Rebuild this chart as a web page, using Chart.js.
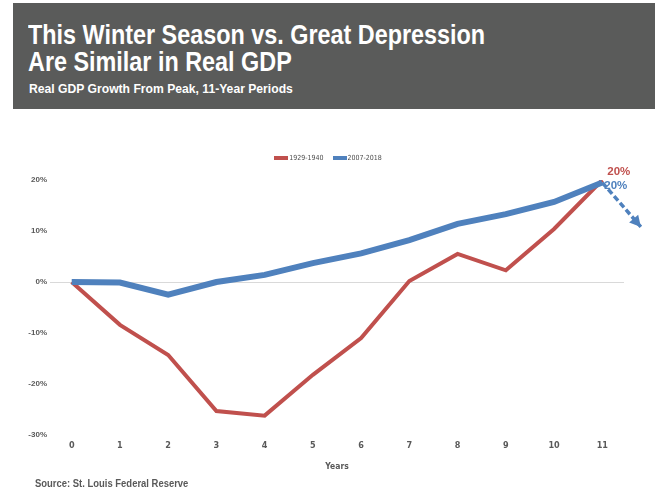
<!DOCTYPE html>
<html>
<head>
<meta charset="utf-8">
<script src="https://cdn.jsdelivr.net/npm/chart.js@4.4.1/dist/chart.umd.min.js"></script>
<style>
  html, body { margin: 0; padding: 0; background: #fff; }
  body {
    position: relative; width: 656px; height: 491px; overflow: hidden;
    font-family: "Liberation Sans", Arial, sans-serif;
  }
  #chart-box { position: absolute; left: 0; top: 0; width: 656px; height: 491px; }
  #header {
    position: absolute; left: 13px; top: 3px; width: 642px; height: 106px;
    background: #5a5b5a; color: #fff; font-weight: bold;
  }
  /* condensed look: regular sans squeezed horizontally */
  #header .title {
    position: absolute; left: 15px; top: 18px; font-size: 28px; line-height: 27px;
    white-space: nowrap; transform: scaleX(0.835); transform-origin: 0 0;
  }
  #header .subtitle {
    position: absolute; left: 16px; top: 78px; font-size: 13.5px; line-height: 16px;
    white-space: nowrap; transform: scaleX(0.9); transform-origin: 0 0;
  }
  #legend {
    position: absolute; left: 0; top: 152px; width: 656px; height: 12px;
    display: flex; justify-content: center; align-items: center;
    font-family: "DejaVu Sans Condensed", sans-serif; font-size: 7px; color: #4d4d4d;
  }
  #legend .item { display: flex; align-items: center; margin: 0 4.5px; }
  #legend .swatch { width: 14px; height: 4px; margin-right: 1px; }
  #source {
    position: absolute; left: 35px; top: 477px; font-size: 10.5px; line-height: 12px;
    font-weight: bold; color: #595959; white-space: nowrap;
    transform: scaleX(0.9); transform-origin: 0 0;
  }
</style>
</head>
<body>
<div id="chart-box"><canvas id="gdp"></canvas></div>
<div id="header">
  <div class="title">This Winter Season vs. Great Depression<br>Are Similar in Real GDP</div>
  <div class="subtitle">Real GDP Growth From Peak, 11-Year Periods</div>
</div>
<div id="legend"></div>
<div id="source">Source: St. Louis Federal Reserve</div>

<script>
// years since the prior peak
const years = [0, 1, 2, 3, 4, 5, 6, 7, 8, 9, 10, 11]
// cumulative real GDP change from peak, percent
const gdp1929 = [0, -8.4, -14.3, -25.3, -26.2, -18.2, -11.0, 0.2, 5.5, 2.3, 10.4, 20]
const gdp2007 = [0, -0.1, -2.5, 0, 1.4, 3.7, 5.6, 8.2, 11.4, 13.3, 15.7, 19.5]
const yTicks = [-30, -20, -10, 0, 10, 20]
// dashed projection after the last 2007-2018 reading
const projYears = [11, 11.8]
const projGdp = [19.5, 10.8]

const RED = '#c0504d'
const BLUE = '#4f81bd'
const GREY = '#595959'
const NARROW = '"DejaVu Sans Condensed", sans-serif'
const SANS = '"Liberation Sans", Arial, sans-serif'

// "20%" tags at the end of each line plus the arrowhead on the projection
const endLabels = {
  id: 'endLabels',
  afterDatasetsDraw(chart, args, opts) {
    const ctx = chart.ctx
    ctx.save()
    ctx.font = 'bold 11.5px ' + SANS
    ctx.textAlign = 'left'
    ctx.textBaseline = 'middle'
    opts.series.forEach((s) => {
      const ds = chart.data.datasets[s.index]
      const pts = chart.getDatasetMeta(s.index).data
      const last = pts[pts.length - 1]
      const value = ds.data[ds.data.length - 1]
      ctx.fillStyle = ds.borderColor
      ctx.fillText(Math.round(value) + '%', last.x + s.dx, last.y + s.dy)
    })

    const proj = chart.getDatasetMeta(2).data
    const a = proj[proj.length - 2]
    const b = proj[proj.length - 1]
    const ang = Math.atan2(b.y - a.y, b.x - a.x)
    const len = 11, half = 6
    ctx.fillStyle = BLUE
    ctx.beginPath()
    ctx.moveTo(b.x, b.y)
    ctx.lineTo(b.x - len * Math.cos(ang) + half * Math.sin(ang), b.y - len * Math.sin(ang) - half * Math.cos(ang))
    ctx.lineTo(b.x - len * Math.cos(ang) - half * Math.sin(ang), b.y - len * Math.sin(ang) + half * Math.cos(ang))
    ctx.closePath()
    ctx.fill()
    ctx.restore()
  }
}

const chart = new Chart(document.getElementById('gdp'), {
  type: 'line',
  data: {
    labels: years,
    datasets: [
      {
        label: '1929-1940',
        data: gdp1929,
        borderColor: RED,
        backgroundColor: RED,
        borderWidth: 4,
        order: 1
      },
      {
        label: '2007-2018',
        data: gdp2007,
        borderColor: BLUE,
        backgroundColor: BLUE,
        borderWidth: 6,
        order: 0
      },
      {
        label: 'projection',
        data: projYears.map((x, i) => ({ x, y: projGdp[i] })),
        borderColor: BLUE,
        borderWidth: 3.5,
        borderDash: [6, 3],
        clip: false,
        order: 0
      }
    ]
  },
  options: {
    responsive: true,
    maintainAspectRatio: false,
    animation: false,
    layout: { padding: { top: 180, right: 32, bottom: 19, left: 0 } },
    elements: {
      line: { tension: 0, fill: false },
      point: { radius: 0, hoverRadius: 0 }
    },
    plugins: {
      legend: { display: false },
      tooltip: { enabled: false },
      endLabels: {
        series: [
          { index: 0, dx: 5, dy: -8 },
          { index: 1, dx: 2, dy: 3 }
        ]
      }
    },
    scales: {
      x: {
        type: 'linear',
        min: -0.45,
        max: 11.45,
        afterBuildTicks: (s) => { s.ticks = years.map((v) => ({ value: v })) },
        afterFit: (s) => { s.height = 37 },
        grid: { display: false, drawTicks: false },
        border: { display: false },
        ticks: {
          padding: 5,
          color: GREY,
          font: { family: NARROW, size: 9, weight: 'bold' }
        },
        title: {
          display: true,
          text: 'Years',
          color: GREY,
          padding: 0,
          font: { family: NARROW, size: 8.5, weight: 'bold' }
        }
      },
      y: {
        min: -30,
        max: 20,
        afterBuildTicks: (s) => { s.ticks = yTicks.map((v) => ({ value: v })) },
        afterFit: (s) => { s.width = 50 },
        grid: {
          drawTicks: false,
          color: (c) => (c.tick && c.tick.value === 0 ? '#d9d9d9' : 'rgba(0,0,0,0)'),
          lineWidth: 1
        },
        border: { display: false },
        ticks: {
          padding: 3,
          color: GREY,
          font: { family: SANS, size: 8, weight: 'bold' },
          callback: (v) => v + '%'
        }
      }
    }
  },
  plugins: [endLabels]
})

// legend built from the two history series
const legend = document.getElementById('legend')
chart.data.datasets.slice(0, 2).forEach((ds) => {
  const item = document.createElement('div')
  item.className = 'item'
  const sw = document.createElement('span')
  sw.className = 'swatch'
  sw.style.background = ds.borderColor
  const txt = document.createElement('span')
  txt.textContent = ds.label
  item.appendChild(sw)
  item.appendChild(txt)
  legend.appendChild(item)
})
</script>
</body>
</html>
